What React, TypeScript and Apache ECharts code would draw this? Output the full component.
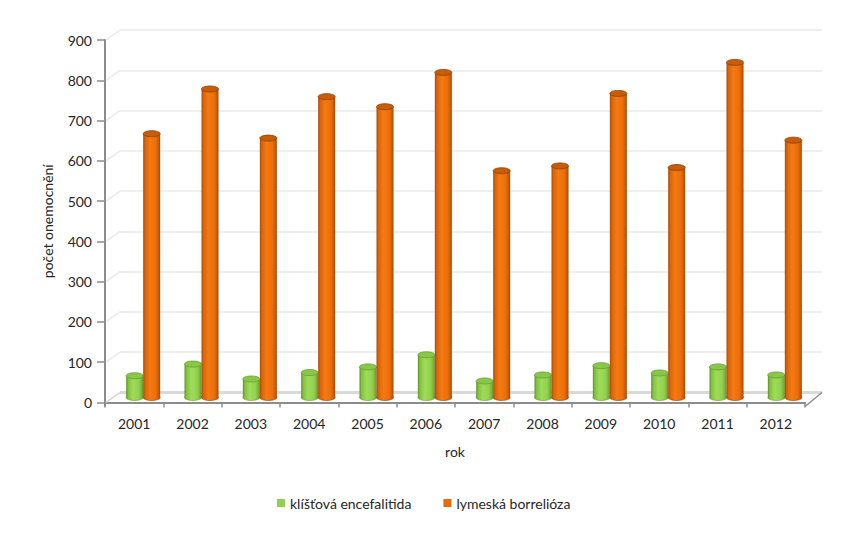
import React, { useEffect, useRef } from "react";
import * as echarts from "echarts";

const years = ["2001", "2002", "2003", "2004", "2005", "2006", "2007", "2008", "2009", "2010", "2011", "2012"];
const tbe = [54, 83, 46, 62, 76, 106, 41, 56, 79, 61, 76, 56];
const lyme = [655, 766, 644, 747, 722, 807, 563, 575, 755, 571, 832, 639];
const yMax = 900;
const yInterval = 100;
const seriesNames = ["klíšťová encefalitida", "lymeská borrelióza"];

const FONT = "Lato, 'Open Sans', sans-serif";

const GRID_A = { left: 105, right: 52, top: 40, bottom: 133.5 };
const DEPTH_X = 15;
const DEPTH_Y = -10;

function cylinder(side: number, body: any, topFill: string, rim: string) {
  return (params: any, api: any) => {
    const idx = api.value(0);
    const val = api.value(1);
    const top = api.coord([idx, val]);
    const base = api.coord([idx, 0]);
    const bw = 17;
    const dx = 9;
    const dy = -5;
    const cx = top[0] + dx + side * (bw / 2);
    const yTop = top[1] + dy;
    const yBase = base[1] + dy;
    const rx = bw / 2;
    const ry = 3;
    return {
      type: "group",
      children: [
        {
          type: "ellipse",
          shape: { cx, cy: yBase, rx, ry },
          style: { fill: body, stroke: rim, lineWidth: 0.6 },
        },
        {
          type: "rect",
          shape: { x: cx - rx, y: yTop, width: bw, height: yBase - yTop },
          style: { fill: body, stroke: null },
        },
        {
          type: "ellipse",
          shape: { cx, cy: yTop, rx, ry },
          style: { fill: topFill, stroke: rim, lineWidth: 0.8 },
        },
      ],
    };
  };
}

function grad(stops: [number, string][]) {
  return new echarts.graphic.LinearGradient(0, 0, 1, 0, stops.map(([offset, color]) => ({ offset, color })));
}

export default function App() {
  const ref = useRef<HTMLDivElement>(null);
  useEffect(() => {
    if (!ref.current) return;
    const chart = echarts.init(ref.current, undefined, { renderer: "svg" });
    const orangeBody = grad([
      [0, "#A84A06"],
      [0.12, "#DA640A"],
      [0.4, "#F47A12"],
      [0.75, "#EC6E0A"],
      [0.92, "#C45A08"],
      [1, "#9A4406"],
    ]);
    const greenBody = grad([
      [0, "#5E9026"],
      [0.12, "#84C040"],
      [0.4, "#9EDC58"],
      [0.75, "#92D050"],
      [0.92, "#78B03A"],
      [1, "#5A8A24"],
    ]);
    const yTicks: number[] = [];
    for (let v = 0; v <= yMax; v += yInterval) yTicks.push(v);

    const decor = (params: any, api: any) => {
      const children: any[] = [];
      const x0 = api.coord([0, 0])[0] - (api.size([1, 0])[0] / 2);
      const x1 = api.coord([years.length - 1, 0])[0] + (api.size([1, 0])[0] / 2);
      yTicks.forEach((v) => {
        const y = api.coord([0, v])[1];
        children.push({
          type: "line",
          shape: { x1: x0 + 1, y1: y, x2: x0 + DEPTH_X, y2: y + DEPTH_Y },
          style: { stroke: v === 0 ? "#D0D0D0" : "#EAEAEA", lineWidth: 1.5 },
        });
      });
      const y0 = api.coord([0, 0])[1];
      children.push({
        type: "line",
        shape: { x1: x0 + DEPTH_X, y1: y0 + DEPTH_Y, x2: x1 + DEPTH_X + 2, y2: y0 + DEPTH_Y },
        style: { stroke: "#D9D9D9", lineWidth: 3 },
      });
      children.push({
        type: "line",
        shape: { x1: x1, y1: y0 + 4, x2: x1 + DEPTH_X + 2, y2: y0 + DEPTH_Y },
        style: { stroke: "#8C8C8C", lineWidth: 1.5 },
      });
      children.push({
        type: "line",
        shape: { x1: x0, y1: y0, x2: x0, y2: y0 + 4 },
        style: { stroke: "#8C8C8C", lineWidth: 2 },
      });
      return { type: "group", children };
    };

    chart.setOption({
      animation: false,
      backgroundColor: "#FFFFFF",
      textStyle: { fontFamily: FONT },
      legend: {
        bottom: 21,
        left: 272,
        itemWidth: 8,
        itemHeight: 8,
        itemGap: 32,
        itemTextGap: 5,
        icon: "rect",
        data: seriesNames,
        textStyle: { fontFamily: FONT, fontSize: 14, color: "#262626" },
      },
      grid: [
        { ...GRID_A },
        {
          left: GRID_A.left + DEPTH_X,
          right: GRID_A.right - DEPTH_X - 2,
          top: GRID_A.top + DEPTH_Y,
          bottom: GRID_A.bottom - DEPTH_Y,
        },
      ],
      xAxis: [
        {
          type: "category",
          gridIndex: 0,
          data: years,
          offset: 4,
          name: "rok",
          nameLocation: "middle",
          nameGap: 38,
          nameTextStyle: { fontFamily: FONT, fontSize: 14, color: "#262626" },
          axisLine: { lineStyle: { color: "#8C8C8C", width: 2 } },
          axisTick: { show: true, length: 5, lineStyle: { color: "#8C8C8C", width: 1.5 } },
          axisLabel: { margin: 10, fontFamily: FONT, fontSize: 14, color: "#262626" },
          splitLine: { show: false },
        },
        {
          type: "category",
          gridIndex: 1,
          data: years,
          show: false,
        },
      ],
      yAxis: [
        {
          type: "value",
          gridIndex: 0,
          min: 0,
          max: yMax,
          interval: yInterval,
          name: "počet onemocnění",
          nameLocation: "middle",
          nameGap: 51,
          nameTextStyle: { fontFamily: FONT, fontSize: 14, color: "#262626" },
          axisLine: { show: true, lineStyle: { color: "#8C8C8C", width: 2 } },
          axisTick: { show: true, length: 8, lineStyle: { color: "#8C8C8C", width: 1.5 } },
          axisLabel: { margin: 13, fontFamily: FONT, fontSize: 14, color: "#262626" },
          splitLine: { show: false },
        },
        {
          type: "value",
          gridIndex: 1,
          min: 0,
          max: yMax,
          interval: yInterval,
          axisLine: { show: false },
          axisTick: { show: false },
          axisLabel: { show: false },
          splitLine: { show: true, lineStyle: { color: "#EAEAEA", width: 1.5 } },
        },
      ],
      series: [
        {
          type: "custom",
          name: "decor",
          xAxisIndex: 0,
          yAxisIndex: 0,
          silent: true,
          renderItem: decor,
          data: [[0, 0]],
          encode: { x: 0, y: 1 },
          z: 1,
        },
        {
          type: "custom",
          name: seriesNames[0],
          xAxisIndex: 0,
          yAxisIndex: 0,
          itemStyle: { color: "#92D050" },
          renderItem: cylinder(-1, greenBody, "#88C848", "#6A9E30"),
          data: tbe.map((v, i) => [i, v]),
          encode: { x: 0, y: 1 },
          z: 3,
        },
        {
          type: "custom",
          name: seriesNames[1],
          xAxisIndex: 0,
          yAxisIndex: 0,
          itemStyle: { color: "#E46C0A" },
          renderItem: cylinder(1, orangeBody, "#C85C08", "#8E4004"),
          data: lyme.map((v, i) => [i, v]),
          encode: { x: 0, y: 1 },
          z: 4,
        },
      ],
    });
    return () => chart.dispose();
  }, []);
  return <div ref={ref} style={{ width: 857, height: 536, position: "absolute", left: 0, top: 0 }} />;
}
